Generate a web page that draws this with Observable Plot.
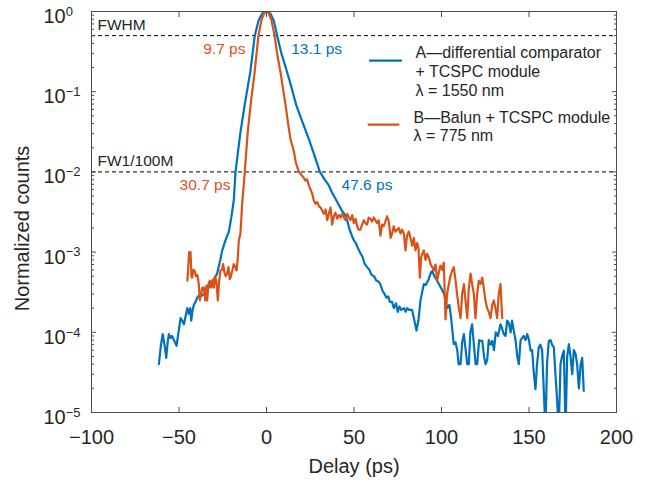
<!DOCTYPE html>
<html>
<head>
<meta charset="utf-8">
<script src="https://cdn.jsdelivr.net/npm/d3@7"></script>
<script src="https://cdn.jsdelivr.net/npm/@observablehq/plot@0.6"></script>
<style>
  html, body { margin: 0; padding: 0; background: #fff; }
</style>
</head>
<body>
<div id="chart"></div>
<script>
// ---- Data ----
const blueT = [-61.5,-60.3,-59.3,-58.3,-57.3,-56.5,-55.8,-54.8,-54.0,-53.0,-51.4,-50.3,-49.1,-48.2,-47.2,-46.2,-45.3,-44.4,-43.6,-43.0,-42.2,-41.5,-40.5,-39.6,-38.5,-37.5,-35.8,-34.0,-32.8,-32.0,-30.0,-28.2,-26.5,-25.3,-23.5,-21.5,-20.0,-18.7,-17.7,-15.0,-12.5,-9.3,-6.7,-4.5,-2.5,-1.0,0,1.2,2.5,4.2,6.1,8.5,11.0,13.5,17.0,20.5,24.2,27.0,30.5,33.0,35.6,37.5,39.5,41.5,43.0,44.5,46.1,47.5,48.8,49.9,51.0,52.0,53.5,54.8,56.0,57.5,58.8,60.0,61.5,62.8,64.0,65.0,66.3,67.5,68.5,69.5,70.5,71.7,72.8,74.0,75.0,76.0,77.0,78.5,79.5,80.4,81.5,83.2,84.5,85.7,86.8,88.0,89.9,91.0,92.5,94.0,94.7,96.0,97.5,98.5,100.0,101.5,103.2,104.5,105.5,107.0,108.0,109.0,109.8,110.9,111.8,112.8,113.8,114.7,115.6,116.5,117.5,118.5,119.5,120.4,121.5,122.3,123.3,124.3,125.2,126.1,127.0,128.0,129.0,130.0,131.0,132.3,133.7,134.7,135.6,136.6,137.5,138.5,139.5,140.3,141.3,142.3,143.3,144.2,145.2,146.1,147.0,148.0,149.0,150.0,150.9,151.8,152.8,153.7,154.6,155.6,156.5,157.5,158.4,159.4,160.3,161.3,162.3,163.2,164.2,165.1,166.0,167.0,168.0,168.9,169.9,170.9,171.8,172.8,173.7,174.7,175.6,176.6,177.5,178.5,179.5,180.4,181.3];
const blueV = [4.0e-5,7.0e-5,9.5e-5,7.0e-5,4.8e-5,7.5e-5,9.5e-5,8.5e-5,9.0e-5,8.1e-5,6.8e-5,1.0e-4,1.5e-4,1.4e-4,1.26e-4,1.6e-4,2.0e-4,1.7e-4,2.0e-4,1.4e-4,1.9e-4,2.2e-4,2.4e-4,2.7e-4,2.9e-4,2.8e-4,3.0e-4,3.3e-4,3.7e-4,4.0e-4,4.6e-4,5.4e-4,7.8e-4,1.05e-3,1.4e-3,1.8e-3,2.8e-3,4.4e-3,1.0e-2,3.0e-2,6.8e-2,0.174,0.5,0.78,0.94,0.99,1,0.98,0.92,0.76,0.5,0.30,0.20,0.13,0.068,0.042,0.0257,0.017,0.010,0.0082,0.0068,0.0055,0.0046,0.0038,0.0033,0.0030,0.0025,0.0019,0.0016,0.0014,0.0013,0.00115,0.00098,0.00088,0.00072,0.00065,0.00060,0.00052,0.00050,0.00044,0.00043,0.00040,0.00033,0.00030,0.00027,0.00028,0.00024,0.00024,0.00020,0.00023,0.00018,0.00021,0.00019,0.00020,0.00018,0.00020,0.00019,0.00019,0.00014,0.000105,0.00014,0.00025,0.00040,0.00039,0.00045,0.00056,0.00058,0.00050,0.00044,0.00040,0.00035,0.00030,0.00020,0.00022,0.00015,0.000071,0.000075,0.00006,0.00004,0.00004,0.000075,0.000095,0.00006,0.00004,0.00004,0.0001,0.000126,0.00007,0.00004,0.00004,0.00008,0.000078,0.000078,0.00005,0.00004,0.000045,0.00008,0.00007,0.000078,0.00006,0.0001,0.00009,0.000126,0.00011,0.000095,0.00009,0.00014,0.00013,0.0001,0.00014,0.000105,0.00008,0.00005,0.00004,0.00008,0.000085,0.00009,0.00008,0.000095,0.00008,0.000059,0.00006,0.00003,0.0000195,0.00004,0.000065,0.00007,0.00006,0.00002,0.000006,0.00004,0.000078,0.00008,0.00007,0.000065,0.00003,0.000015,0.000006,0.00004,0.00005,0.000059,0.000006,0.00005,0.000071,0.00005,0.00003,0.00006,0.000054,0.00004,0.00002,0.00004,0.000048,0.0000186];

const redT = [-45.2,-44.8,-44.2,-43.8,-43.4,-42.9,-42.5,-41.8,-41.1,-40.3,-39.5,-38.7,-38.1,-37.4,-36.6,-35.8,-35.0,-34.4,-33.9,-33.2,-32.4,-31.5,-30.8,-30.1,-29.4,-28.6,-27.8,-27.0,-26.3,-25.5,-24.8,-24.0,-23.3,-22.5,-21.7,-21.0,-20.3,-19.5,-18.7,-17.9,-17.1,-16.5,-15.8,-14.9,-13.9,-12.4,-10.8,-9.1,-6.8,-4.6,-2.8,-1.2,0,1.2,2.8,4.6,6.3,8.0,10.9,12.5,13.7,15.6,16.8,18.5,20.0,21.2,22.3,23.2,24.2,25.2,26.2,27.0,28.0,29.0,30.0,30.9,31.8,32.8,33.8,34.7,35.6,36.6,37.5,38.5,39.4,40.4,41.4,42.3,43.3,44.2,45.2,46.1,47.1,48.0,49.0,49.9,50.9,51.8,52.7,53.7,54.6,55.6,56.5,57.5,58.4,59.4,60.3,61.3,62.2,63.2,64.1,65.1,66.0,67.0,67.9,68.9,69.9,70.9,71.8,72.7,73.7,74.7,75.6,76.6,77.5,78.5,79.4,80.3,81.3,82.3,83.2,84.2,85.1,86.1,86.9,87.6,88.4,89.0,89.9,90.9,91.8,92.8,93.8,94.7,95.6,96.6,97.5,98.4,99.4,100.4,101.3,102.3,103.2,104.2,105.1,106.1,107.0,108.0,108.9,109.9,110.9,111.8,112.8,113.7,114.7,115.6,116.6,117.5,118.5,119.4,120.4,121.3,122.3,123.3,124.2,125.1,126.1,127.0,128.0,129.0,129.9,130.8,131.8,132.7,133.7,134.7];
const redV = [4.4e-4,6.0e-4,1.0e-3,8.5e-4,1.0e-3,5.0e-4,4.8e-4,6.0e-4,5.9e-4,5.0e-4,5.2e-4,4.0e-4,2.5e-4,3.0e-4,3.6e-4,3.6e-4,2.5e-4,3.8e-4,2.5e-4,4.0e-4,4.4e-4,3.6e-4,4.5e-4,3.6e-4,5.0e-4,4.2e-4,2.5e-4,4.5e-4,5.9e-4,6.0e-4,7.1e-4,5.5e-4,5.0e-4,5.4e-4,6.5e-4,4.6e-4,5.0e-4,6.0e-4,7.1e-4,6.5e-4,5.9e-4,8.0e-4,1.4e-3,1.7e-3,4.0e-3,1.0e-2,3.0e-2,6.8e-2,0.174,0.5,0.8,0.96,1,0.96,0.78,0.5,0.28,0.174,0.068,0.038,0.0257,0.0182,0.0130,0.0100,0.0092,0.0085,0.0078,0.0081,0.0068,0.0060,0.0053,0.0044,0.0040,0.0042,0.0037,0.0036,0.0033,0.0030,0.0034,0.0025,0.0030,0.0036,0.0022,0.0028,0.0031,0.0026,0.0029,0.0027,0.0030,0.0027,0.0025,0.0030,0.0027,0.0025,0.0029,0.0023,0.0026,0.0021,0.0019,0.0019,0.0022,0.0025,0.0023,0.0022,0.0027,0.0026,0.0024,0.0027,0.0025,0.0023,0.0025,0.0016,0.0022,0.0021,0.0024,0.0028,0.0024,0.0015,0.0017,0.0021,0.0018,0.0019,0.0020,0.0017,0.0019,0.0017,0.00105,0.0016,0.0018,0.0015,0.0012,0.0015,0.00105,0.0013,0.0011,0.00048,0.00085,0.00095,0.00105,0.0008,0.00095,0.00085,0.0007,0.00065,0.00059,0.0007,0.00044,0.00055,0.00068,0.0006,0.00074,0.000145,0.0003,0.0004,0.0005,0.00059,0.00065,0.00045,0.0003,0.0002,0.00015,0.0003,0.0004,0.00025,0.00015,0.00035,0.00054,0.0004,0.0003,0.00015,0.0003,0.00044,0.0004,0.00048,0.00035,0.00025,0.0002,0.00018,0.00015,0.00022,0.00025,0.0002,0.00015,0.0003,0.0004,0.00015];

const xTicks = [-100, -50, 0, 50, 100, 150, 200];
const yTicks = [1e-5, 1e-4, 1e-3, 1e-2, 1e-1, 1];
const yTickExps = ["−5", "−4", "−3", "−2", "−1", "0"];
const yMinorMultipliers = [2, 3, 4, 5, 6, 7, 8, 9];
const yMinorTicks = yTicks.slice(0, -1).flatMap(d => yMinorMultipliers.map(m => m * d));

const thresholds = [0.5, 0.01];
const thresholdNames = ["FWHM", "FW1/100M"];
const widthLabelsLeft = ["9.7 ps", "30.7 ps"];   // orange (B)
const widthLabelsRight = ["13.1 ps", "47.6 ps"]; // blue (A)
const leftLabelX = [-12, -20.6];
const rightLabelX = [14.1, 42.9];

const seriesNames = ["A", "B"];
const seriesColors = ["#0072BD", "#D95319"];
const legendTexts = ["A—differential comparator\n+ TCSPC module\nλ = 1550 nm", "B—Balun + TCSPC module\nλ = 775 nm"];

// ---- Build tables ----
const blue = blueT.map((t, i) => ({t, v: blueV[i]}));
const red = redT.map((t, i) => ({t, v: redV[i]}));

const FONT = "'Liberation Sans', Arial, Helvetica, sans-serif";
const axisColor = "#4d4d4d";
const textColor = "#262626";

const chart = Plot.plot({
  width: 645,
  height: 482,
  marginLeft: 91,
  marginRight: 29,
  marginTop: 11,
  marginBottom: 70,
  style: {fontFamily: FONT, fontSize: "20px", color: textColor, background: "#fff"},
  x: {domain: [-100, 200]},
  y: {type: "log", domain: [1e-5, 1]},
  marks: [
    // threshold dashed lines
    Plot.ruleY(thresholds, {stroke: "#000", strokeWidth: 1, strokeDasharray: "4,3"}),
    // data
    Plot.line(blue, {x: "t", y: "v", stroke: seriesColors[0], strokeWidth: 2.2, clip: true}),
    Plot.line(red, {x: "t", y: "v", stroke: seriesColors[1], strokeWidth: 2.2, clip: true}),
    // frame
    Plot.frame({stroke: axisColor, strokeWidth: 1}),
    // x axis: ticks (bottom & top, inward) and labels
    Plot.axisX(xTicks, {anchor: "bottom", tickSize: -5, fill: "none", label: null, stroke: axisColor}),
    Plot.axisX(xTicks, {anchor: "top", tickSize: -5, fill: "none", label: null, stroke: axisColor}),
    Plot.axisX(xTicks, {anchor: "bottom", tickSize: 0, tickPadding: 17, label: null, fontSize: 20, fill: textColor}),
    // y axis: major & minor ticks on both sides
    Plot.axisY(yTicks, {anchor: "left", tickSize: -5, fill: "none", label: null, stroke: axisColor}),
    Plot.axisY(yTicks, {anchor: "right", tickSize: -5, fill: "none", label: null, stroke: axisColor}),
    Plot.axisY(yMinorTicks, {anchor: "left", tickSize: -3, fill: "none", label: null, stroke: axisColor}),
    Plot.axisY(yMinorTicks, {anchor: "right", tickSize: -3, fill: "none", label: null, stroke: axisColor}),
    Plot.axisY(yTicks, {anchor: "left", tickSize: 0, tickPadding: 48, textAnchor: "start", dy: 5, label: null, fontSize: 20, fill: textColor,
      tickFormat: d => "10^" + yTickExps[yTicks.indexOf(d)]}),
    // axis titles
    Plot.text(["Delay (ps)"], {frameAnchor: "bottom", dy: 54, lineAnchor: "middle", textAnchor: "middle", fontSize: 20, fill: textColor}),
    Plot.text(["Normalized counts"], {frameAnchor: "left", dx: -68.5, dy: 16.5, rotate: -90, textAnchor: "middle", lineAnchor: "middle", fontSize: 20, fill: textColor}),
    // threshold names
    Plot.text(thresholdNames, {x: -100, y: (d, i) => thresholds[i], dx: 6, dy: -11, textAnchor: "start", fontSize: 15.5, fill: textColor}),
    // width annotations
    Plot.text(widthLabelsLeft, {x: (d, i) => leftLabelX[i], y: (d, i) => thresholds[i], dy: 13, textAnchor: "end", fontSize: 15.5, fill: seriesColors[1]}),
    Plot.text(widthLabelsRight, {x: (d, i) => rightLabelX[i], y: (d, i) => thresholds[i], dy: 13, textAnchor: "start", fontSize: 15.5, fill: seriesColors[0]}),
    // legend
    Plot.ruleY([0.244], {x1: 58.9, x2: 77.7, stroke: seriesColors[0], strokeWidth: 2.2}),
    Plot.ruleY([0.0388], {x1: 58.1, x2: 76.2, stroke: seriesColors[1], strokeWidth: 2.2}),
    Plot.text([legendTexts[0]], {frameAnchor: "top-left", dx: 324, dy: 59.5, textAnchor: "start", lineAnchor: "middle", lineHeight: 1.18, fontSize: 16, fill: textColor}),
    Plot.text([legendTexts[1]], {frameAnchor: "top-left", dx: 322, dy: 114.5, textAnchor: "start", lineAnchor: "middle", lineHeight: 1.18, fontSize: 16, fill: textColor})
  ]
});

// superscript exponents on y tick labels
const NS = "http://www.w3.org/2000/svg";
chart.querySelectorAll('g[aria-label="y-axis tick label"] text').forEach(t => {
  const s = t.textContent;
  if (!s.includes("^")) return;
  const [base, exp] = s.split("^");
  t.textContent = "";
  const t1 = document.createElementNS(NS, "tspan");
  t1.textContent = base;
  t.appendChild(t1);
  const t2 = document.createElementNS(NS, "tspan");
  t2.textContent = exp;
  t2.setAttribute("dy", "-0.55em");
  t2.setAttribute("font-size", "13px");
  t.appendChild(t2);
});

document.getElementById("chart").appendChild(chart);
</script>
</body>
</html>
